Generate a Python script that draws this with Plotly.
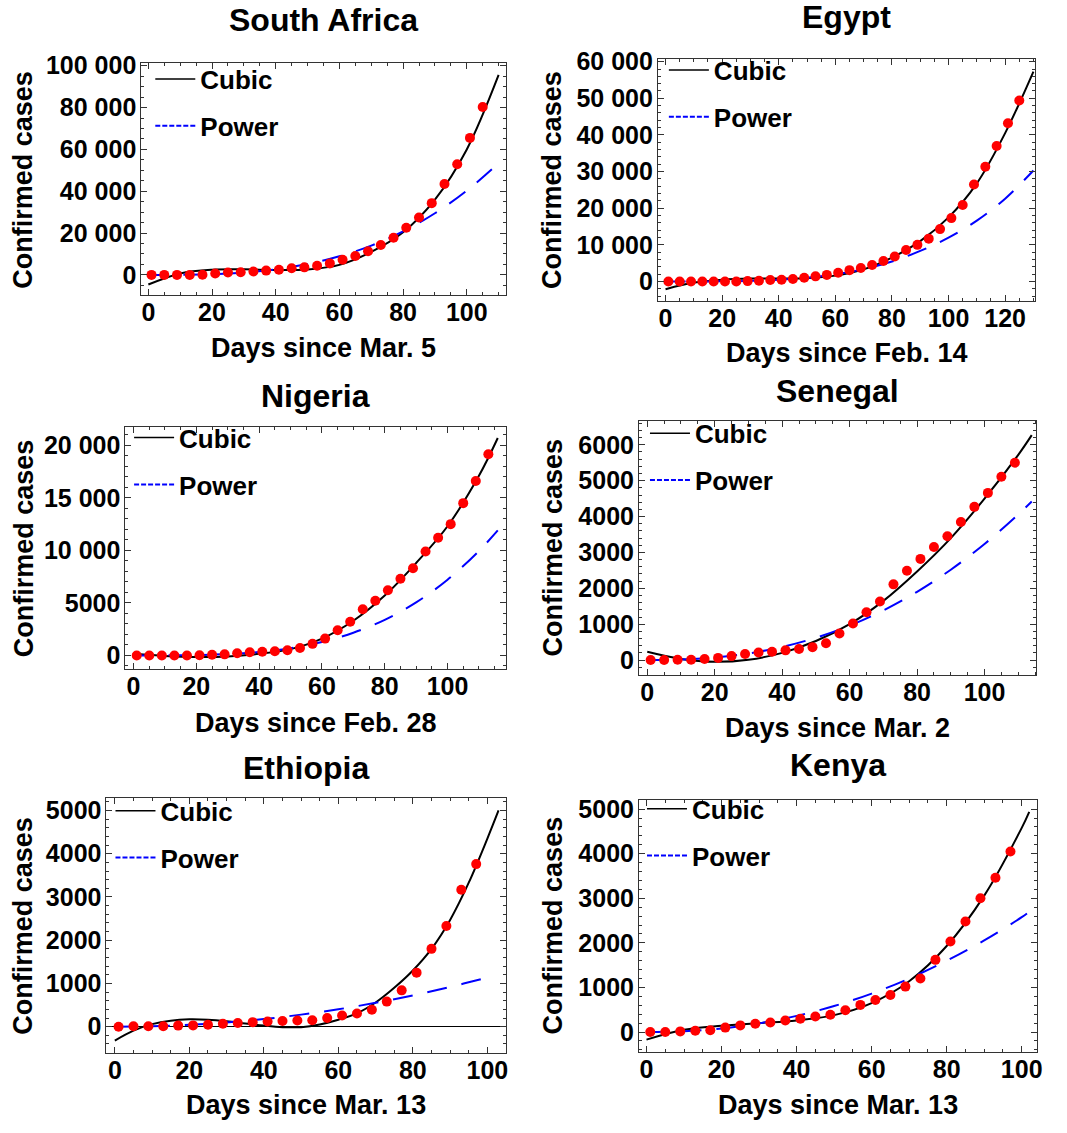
import plotly.graph_objects as go

W, H = 1067, 1133
FONT = "Liberation Sans"

# ---------------- data ----------------
titles = ["South Africa", "Egypt", "Nigeria", "Senegal", "Ethiopia", "Kenya"]
x_titles = ["Days since Mar. 5", "Days since Feb. 14", "Days since Feb. 28",
            "Days since Mar. 2", "Days since Mar. 13", "Days since Mar. 13"]

# South Africa
sa_days = [1, 5, 9, 13, 17, 21, 25, 29, 33, 37, 41, 45, 49, 53, 57, 61, 65, 69, 73, 77, 81, 85, 89, 93, 97, 101, 105]
sa_cases = [0, 0, 0, 0, 100, 650, 1100, 1300, 1600, 2050, 2500, 3150, 3600, 4400, 5500, 7250, 9000, 11300, 14300, 17800, 22500, 27400, 34300, 43500, 52900, 65500, 80300]
sa_fit_days = [0, 10, 20, 30, 40, 50, 60, 70, 80, 90, 100, 110]
sa_cubic = [-4600, 700, 2500, 2700, 2300, 2600, 4800, 11000, 20400, 36000, 60000, 95600]
sa_power = [0, 44, 343, 1141, 2672, 5174, 8880, 14010, 20800, 29480, 40270, 53400]

# Egypt
eg_days = [1, 5, 9, 13, 17, 21, 25, 29, 33, 37, 41, 45, 49, 53, 57, 61, 65, 69, 73, 77, 81, 85, 89, 93, 97, 101, 105, 109, 113, 117, 121, 125]
eg_cases = [0, 0, 0, 0, 0, 0, 0, 100, 200, 400, 500, 700, 1000, 1400, 1800, 2400, 3100, 3700, 4500, 5600, 6800, 8600, 10000, 11700, 14300, 17300, 20900, 26500, 31300, 37000, 43200, 49400]
eg_fit_days = [0, 10, 20, 30, 40, 50, 60, 70, 80, 90, 100, 110, 120, 130]
eg_cubic = [-2100, -300, 500, 800, 800, 900, 1600, 3300, 6500, 11000, 17500, 26800, 40500, 57300]
eg_power = [0, 4, 40, 170, 460, 1000, 1950, 3400, 5450, 8350, 11950, 16600, 22600, 30300]

# Nigeria
ng_days = [1, 5, 9, 13, 17, 21, 25, 29, 33, 37, 41, 45, 49, 53, 57, 61, 65, 69, 73, 77, 81, 85, 89, 93, 97, 101, 105, 109, 113]
ng_cases = [0, 0, 0, 0, 0, 20, 60, 100, 200, 300, 350, 400, 500, 700, 1100, 1600, 2400, 3200, 4400, 5200, 6200, 7300, 8300, 9900, 11200, 12500, 14500, 16600, 19150]
ng_fit_days = [0, 10, 20, 30, 40, 50, 60, 70, 80, 90, 100, 110, 116]
ng_cubic = [150, -50, -150, -100, 150, 600, 1600, 3300, 5700, 8800, 12300, 17100, 20700]
ng_power = [0, 3, 31, 123, 325, 691, 1282, 2159, 3389, 5048, 7205, 9945, 11900]

# Senegal
sn_days = [1, 5, 9, 13, 17, 21, 25, 29, 33, 37, 41, 45, 49, 53, 57, 61, 65, 69, 73, 77, 81, 85, 89, 93, 97, 101, 105, 109]
sn_cases = [0, 0, 10, 10, 30, 60, 110, 170, 210, 230, 270, 310, 360, 470, 740, 1020, 1330, 1630, 2110, 2490, 2820, 3150, 3450, 3850, 4270, 4660, 5110, 5500]
sn_fit_days = [0, 10, 20, 30, 40, 50, 60, 70, 80, 90, 100, 110, 114]
sn_cubic = [230, 30, -50, 10, 200, 530, 1000, 1650, 2470, 3400, 4500, 5720, 6270]
sn_power = [0, 13, 70, 184, 366, 621, 959, 1384, 1903, 2518, 3235, 4060, 4420]

# Ethiopia
et_days = [1, 5, 9, 13, 17, 21, 25, 29, 33, 37, 41, 45, 49, 53, 57, 61, 65, 69, 73, 77, 81, 85, 89, 93, 97]
et_cases = [0, 10, 10, 10, 25, 30, 45, 70, 85, 105, 120, 130, 145, 150, 200, 260, 306, 390, 580, 840, 1250, 1800, 2330, 3165, 3760]
et_cubic_days = [0, 5, 10, 15, 20, 25, 30, 35, 40, 45, 50, 55, 60, 65, 70, 75, 80, 85, 90, 95, 100, 103]
et_cubic = [-320, -90, 60, 140, 170, 160, 125, 75, 25, -10, -10, 50, 160, 310, 560, 900, 1300, 1800, 2470, 3330, 4350, 5000]
et_power_days = [0, 10, 20, 30, 40, 50, 60, 70, 80, 90, 100, 102]
et_power = [0, 11, 43, 99, 177, 279, 403, 552, 724, 919, 1138, 1180]

# Kenya
ke_days = [1, 5, 9, 13, 17, 21, 25, 29, 33, 37, 41, 45, 49, 53, 57, 61, 65, 69, 73, 77, 81, 85, 89, 93, 97]
ke_cases = [0, 0, 15, 30, 40, 100, 150, 185, 215, 260, 300, 350, 390, 490, 610, 720, 830, 1020, 1200, 1620, 2030, 2480, 3000, 3460, 4050]
ke_fit_days = [0, 10, 20, 30, 40, 50, 60, 70, 80, 90, 100, 102]
ke_cubic = [-170, 50, 140, 200, 260, 380, 650, 1140, 1930, 3060, 4580, 4940]
ke_power = [0, 19, 82, 196, 363, 585, 863, 1201, 1599, 2057, 2577, 2700]

# y tick labels
sa_ticks = [0, 20000, 40000, 60000, 80000, 100000]
sa_ticktext = ["0", "20 000", "40 000", "60 000", "80 000", "100 000"]
eg_ticks = [0, 10000, 20000, 30000, 40000, 50000, 60000]
eg_ticktext = ["0", "10 000", "20 000", "30 000", "40 000", "50 000", "60 000"]
ng_ticks = [0, 5000, 10000, 15000, 20000]
ng_ticktext = ["0", "5000", "10 000", "15 000", "20 000"]
sn_ticks = [0, 1000, 2000, 3000, 4000, 5000, 6000]
sn_ticktext = ["0", "1000", "2000", "3000", "4000", "5000", "6000"]
et_ticks = [0, 1000, 2000, 3000, 4000, 5000]
et_ticktext = ["0", "1000", "2000", "3000", "4000", "5000"]
ke_ticks = [0, 1000, 2000, 3000, 4000, 5000]
ke_ticktext = ["0", "1000", "2000", "3000", "4000", "5000"]

panels = [
    dict(days=sa_days, cases=sa_cases, cx=sa_fit_days, cy=sa_cubic, px=sa_fit_days, py=sa_power,
         yt=sa_ticks, ytt=sa_ticktext),
    dict(days=eg_days, cases=eg_cases, cx=eg_fit_days, cy=eg_cubic, px=eg_fit_days, py=eg_power,
         yt=eg_ticks, ytt=eg_ticktext),
    dict(days=ng_days, cases=ng_cases, cx=ng_fit_days, cy=ng_cubic, px=ng_fit_days, py=ng_power,
         yt=ng_ticks, ytt=ng_ticktext),
    dict(days=sn_days, cases=sn_cases, cx=sn_fit_days, cy=sn_cubic, px=sn_fit_days, py=sn_power,
         yt=sn_ticks, ytt=sn_ticktext),
    dict(days=et_days, cases=et_cases, cx=et_cubic_days, cy=et_cubic, px=et_power_days, py=et_power,
         yt=et_ticks, ytt=et_ticktext),
    dict(days=ke_days, cases=ke_cases, cx=ke_fit_days, cy=ke_cubic, px=ke_fit_days, py=ke_power,
         yt=ke_ticks, ytt=ke_ticktext),
]

# ---------------- layout geometry (pixels) ----------------
frames = [(142, 508, 52, 286), (661, 1040, 48, 292), (126, 508, 419, 664),
          (642, 1041, 413, 670), (107, 508, 794, 1052), (642, 1042, 796, 1051)]
xranges = [[-2.2, 112.2], [-2.7, 130.6], [-2.6, 118.5], [-2.45, 115.3], [-2.24, 104.9], [-2.0, 104.1]]
yranges = [[-9600, 101100], [-5300, 60600], [-1290, 21790], [-414, 6674], [-605, 5298], [-444, 5215]]
yminor = [5000, 2000, 1000, 200, 200, 200]
title_y = [8, 5, 388, 383, 764, 761]
xtitle_y = [340, 345, 719, 724, 1105, 1105]
ytitle_x = [23.6, 555.3, 23.6, 555.3, 23.6, 555.3]
legend_pos = [(153, 66), (669, 57), (131.7, 428.5), (650, 424), (113, 805.7), (647, 803.7)]

def px2x(v):
    return v / W

def px2y(v):
    return 1 - v / H

fig = go.Figure()
layout = dict(width=W, height=H, margin=dict(l=0, r=0, t=0, b=0),
              paper_bgcolor="white", plot_bgcolor="white", annotations=[])

FRAME = "#333333"
for i, p in enumerate(panels, start=1):
    sfx = "" if i == 1 else str(i)
    xa, ya, lg = "x" + sfx, "y" + sfx, "legend" + sfx
    fig.add_trace(go.Scatter(x=p["cx"], y=p["cy"], mode="lines",
                             line=dict(color="black", width=2, shape="spline", smoothing=1.0),
                             xaxis=xa, yaxis=ya, showlegend=False, hoverinfo="skip"))
    fig.add_trace(go.Scatter(x=p["px"], y=p["py"], mode="lines",
                             line=dict(color="#0000ff", width=2, dash="20px,15px", shape="spline", smoothing=1.0),
                             xaxis=xa, yaxis=ya, showlegend=False, hoverinfo="skip"))
    fig.add_trace(go.Scatter(x=p["days"], y=p["cases"], mode="markers",
                             marker=dict(color="#ff0000", size=10, line=dict(width=0)),
                             xaxis=xa, yaxis=ya, showlegend=False))
    # legend entries
    fig.add_trace(go.Scatter(x=[None], y=[None], mode="lines", name="Cubic",
                             line=dict(color="black", width=1.5), legend=lg,
                             legendgroup="c" + str(i), xaxis=xa, yaxis=ya))
    fig.add_trace(go.Scatter(x=[None], y=[None], mode="lines", name="Power",
                             line=dict(color="#0000ff", width=2, dash="5px,2px"), legend=lg,
                             legendgroup="p" + str(i), xaxis=xa, yaxis=ya))

    l, r, t, b = frames[i - 1]
    tickfont = dict(family=FONT, size=25, color="black", weight="bold")
    layout["xaxis" + sfx] = dict(
        domain=[px2x(l), px2x(r)], range=xranges[i - 1], anchor=ya,
        showline=True, mirror="allticks", linecolor=FRAME, linewidth=1,
        ticks="inside", ticklen=6, tickwidth=1, tickcolor=FRAME,
        tickmode="linear", tick0=0, dtick=20,
        minor=dict(ticks="inside", ticklen=3, tickmode="linear", tick0=0, dtick=5, tickcolor=FRAME),
        showgrid=False, zeroline=False, tickfont=tickfont, ticklabelstandoff=-5)
    layout["yaxis" + sfx] = dict(
        domain=[px2y(b), px2y(t)], range=yranges[i - 1], anchor=xa,
        showline=True, mirror="allticks", linecolor=FRAME, linewidth=1,
        ticks="inside", ticklen=6, tickwidth=1, tickcolor=FRAME,
        tickmode="array", tickvals=p["yt"], ticktext=p["ytt"],
        minor=dict(ticks="inside", ticklen=3, tickmode="linear", tick0=0, dtick=yminor[i - 1], tickcolor=FRAME),
        showgrid=False, zeroline=(i == 5), zerolinecolor="black", zerolinewidth=1,
        tickfont=tickfont, ticklabelstandoff=-1)
    lx, ly = legend_pos[i - 1]
    layout[lg] = dict(x=px2x(lx - 2), y=px2y(ly - 22), xanchor="left", yanchor="top",
                      xref="paper", yref="paper",
                      font=dict(family=FONT, size=26, color="black", weight="bold"),
                      bgcolor="rgba(0,0,0,0)", borderwidth=0, tracegroupgap=10, itemwidth=40)
    cx = (l + r) / 2
    layout["annotations"].append(dict(text=titles[i - 1], x=px2x(cx), y=px2y(title_y[i - 1]),
                                      xref="paper", yref="paper", xanchor="center", yanchor="middle",
                                      showarrow=False,
                                      font=dict(family=FONT, size=32, color="black", weight="bold")))
    layout["annotations"].append(dict(text=x_titles[i - 1], x=px2x(cx), y=px2y(xtitle_y[i - 1]),
                                      xref="paper", yref="paper", xanchor="center", yanchor="middle",
                                      showarrow=False,
                                      font=dict(family=FONT, size=27, color="black", weight="bold")))
    layout["annotations"].append(dict(text="Confirmed cases", x=px2x(ytitle_x[i - 1]), y=px2y((t + b) / 2),
                                      xref="paper", yref="paper", xanchor="center", yanchor="middle",
                                      textangle=-90, showarrow=False,
                                      font=dict(family=FONT, size=27, color="black", weight="bold")))

fig.update_layout(**layout)
fig.write_html("out.html")
